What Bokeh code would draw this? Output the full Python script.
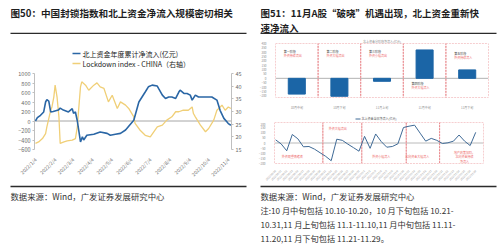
from math import pi
from bokeh.plotting import figure
from bokeh.layouts import row, column
from bokeh.models import Range1d, LinearAxis, FixedTicker, Span
from bokeh.core.properties import value
from bokeh.embed import file_html
from bokeh.resources import INLINE

FONT = "Noto Sans CJK SC"
BLUE = "#2a66a5"
YELLOW = "#f0cf77"
BAR = "#1b65a6"
PINK = "#e8868a"
LINEBLUE = "#3f6a96"
TINY = "#8c8c8c"
RULE = "#2b2b2b"

# ---------------- texts ----------------
title_left = "图50：中国封锁指数和北上资金净流入规模密切相关"
title_right = ["图51：11月A股“破晓”机遇出现，北上资金重新快", "速净流入"]
source_text = "数据来源：Wind，广发证券发展研究中心"
notes = ["注:10 月中旬包括 10.10-10.20，10 月下旬包括 10.21-",
         "10.31,11 月上旬包括 11.1-11.10,11 月中旬包括 11.11-",
         "11.20,11 月下旬包括 11.21-11.29。"]

# ---------------- left chart data ----------------
left_tick_days = [3, 34, 62, 93, 123, 154, 184, 215, 246, 276, 307]
left_tick_labels = ["2022/1/4", "2022/2/4", "2022/3/4", "2022/4/4", "2022/5/4", "2022/6/4",
                    "2022/7/4", "2022/8/4", "2022/9/4", "2022/10/4", "2022/11/4"]
left_y_ticks = [-600, -400, -200, 0, 200, 400, 600, 800, 1000]
right_y_ticks = [15, 20, 25, 30, 35, 40, 45]
legend_labels = ["北上资金年度累计净流入(亿元)", "Lockdown index - CHINA（右轴）"]

flow_days = [3, 6, 11, 16, 19, 21, 24, 27, 31, 39, 42, 47, 55, 61, 63, 66, 69, 74, 77, 79,
             84, 95, 105, 116, 121, 129, 137, 145, 158, 166, 171, 176, 181, 187, 195, 197,
             203, 208, 213, 218, 224, 229, 231, 237, 242, 247, 250, 255, 260, 271, 281, 289,
             294, 300, 305, 307, 311]
flow_vals = [0, 70, 120, 190, 400, 450, 420, 190, 200, 230, 270, 230, 190, 260, 160, 190, 0,
             -440, -330, -400, -300, -280, -230, -260, -300, -280, -260, -190, 17, 400, 505,
             610, 720, 755, 735, 685, 545, 475, 505, 505, 475, 610, 650, 580, 580, 545, 440,
             545, 505, 505, 505, 440, 225, 55, -20, -55, -90]

lock_days = [3, 8, 14, 19, 21, 24, 27, 29, 32, 34, 37, 40, 41, 42, 48, 53, 61, 66, 69, 71,
             74, 76, 82, 87, 95, 100, 105, 111, 118, 124, 132, 137, 145, 150, 158, 160, 168,
             176, 184, 195, 203, 210, 218, 224, 229, 236, 244, 250, 252, 255, 263, 271, 276,
             284, 289, 292, 297, 302, 307, 311]
lock_vals = [17.4, 18.0, 19.3, 21.3, 23.9, 27.2, 30.5, 31.8, 35.8, 40.4, 35.8, 27.9, 22.6,
             17.4, 18.0, 18.4, 18.7, 19.3, 23.9, 30.5, 39.7, 41.7, 40.4, 38.4, 40.4, 41.3,
             39.7, 39.1, 33.8, 36.4, 31.2, 33.8, 32.5, 31.2, 27.9, 25.3, 22.6, 20.6, 20.0,
             23.9, 24.6, 26.6, 27.9, 29.9, 29.9, 30.5, 30.5, 31.8, 29.2, 27.9, 24.6, 22.0,
             23.3, 26.6, 30.5, 31.2, 32.5, 30.5, 31.8, 31.2]

# ---------------- right top (bars) ----------------
bar_title = "北上资金分阶段净流入(亿元)"
periods = ["10月中旬", "10月下旬", "11月上旬", "11月中旬", "11月下旬"]
period_flow = [-181, -206, -34, 326, 97]
bar_y_ticks = [-200, -150, -100, -50, 0, 50, 100, 150, 200, 250, 300, 350, 400]
stage_names = ["第一阶段", "第二阶段", "第三阶段", "第四阶段", "第五阶段"]
stage_notes = ["外资持续流出", "外资大幅流出", "外资小幅流出", "外资大幅流入", "外资持续流入"]
stage_name_y = [300, 300, 300, -70, 280]
stage_note_y = [255, 255, 255, -115, 235]

# ---------------- right bottom (daily line) ----------------
trade_dates = ["2022/10/10", "2022/10/11", "2022/10/12", "2022/10/13", "2022/10/14",
               "2022/10/17", "2022/10/18", "2022/10/19", "2022/10/20", "2022/10/21",
               "2022/10/24", "2022/10/25", "2022/10/26", "2022/10/27", "2022/10/28",
               "2022/10/31", "2022/11/1", "2022/11/2", "2022/11/3", "2022/11/4",
               "2022/11/7", "2022/11/8", "2022/11/9", "2022/11/10", "2022/11/11",
               "2022/11/14", "2022/11/15", "2022/11/16", "2022/11/17", "2022/11/18",
               "2022/11/21", "2022/11/22", "2022/11/23", "2022/11/24", "2022/11/25",
               "2022/11/28", "2022/11/29"]
daily_flow = [31, -9, -76, 83, 41, -37, -34, -60, -95, -130, -173, 37, 26, -11, -45, -80,
              65, -52, 88, 14, -41, -34, -8, 151, 164, 174, 96, 18, 45, 26, -5, 2, 18, 78,
              18, -25, 104]
line_y_ticks = [-200, -150, -100, -50, 0, 50, 100, 150, 200]
period_starts = [0, 9, 16, 24, 30]
line_legend = "北上资金当日净流入(亿元)"
line_notes = ["外资观望情绪浓", "外资大幅流出", "外资小幅流入", "北向资金大幅流入",
              "地产政策加码，\n北向资金持续\n净流入"]
line_note_x = [3, 11.2, 19, 25.5, 34]
line_note_y = [-139, 141, -139, -139, -139]


def no_align(p):
    if "frame_align" in p.properties():
        p.frame_align = False
    return p


def canvas(w, h):
    p = figure(width=w, height=h, x_range=Range1d(0, w), y_range=Range1d(h, 0),
               x_axis_type=None, y_axis_type=None, title=None,
               output_backend="svg", toolbar_location=None, min_border=0)
    p.outline_line_color = None
    return no_align(p)


def ruled_canvas(h, where):
    # text panel whose (tick-less) x axis line is the report's dark separator rule
    fh = h - 1
    p = figure(width=250, height=h, x_range=Range1d(10, 246), y_range=Range1d(fh, 0),
               x_axis_location=where, y_axis_type=None, title=None,
               output_backend="svg", toolbar_location=None,
               min_border_left=10, min_border_right=4,
               min_border_top=1 if where == "above" else 0,
               min_border_bottom=1 if where == "below" else 0)
    p.outline_line_color = None
    p.grid.visible = False
    ax = p.xaxis[0]
    ax.ticker = FixedTicker(ticks=[])
    ax.axis_line_color = RULE
    ax.axis_line_width = 1.6
    ax.major_tick_line_color = None
    ax.minor_tick_line_color = None
    ax.major_tick_out = 0
    ax.major_tick_in = 0
    ax.major_label_standoff = 0
    ax.major_label_text_font_size = "1px"
    return no_align(p)


def txt(p, x, y, s, size, color="#333333", bold=False, align="left"):
    p.text(x=[x], y=[y], text=[s], text_font=value(FONT), text_font_size=size,
           text_font_style="bold" if bold else "normal", text_color=color,
           text_align=align, text_baseline="middle")


def style_axis(ax, size, color="#595959"):
    ax.major_label_text_font = FONT
    ax.major_label_text_font_size = size
    ax.major_label_text_color = color
    ax.minor_tick_line_color = None


# ---------------- left column ----------------
lt = ruled_canvas(34, "below")
txt(lt, 10, 12.5, title_left, "9.6px", "#1e1e1e", bold=True)

lg = canvas(250, 36)
lg.segment(x0=[72], y0=[19], x1=[80], y1=[19], line_color=BLUE, line_width=1.6)
lg.segment(x0=[72], y0=[29], x1=[80], y1=[29], line_color=YELLOW, line_width=1.6)
txt(lg, 82, 19, legend_labels[0], "7px", "#222222")
txt(lg, 82, 29, legend_labels[1], "7px", "#222222")

pl = figure(width=250, height=115, x_range=Range1d(1.5, 312), y_range=Range1d(-600, 1000),
            output_backend="svg", toolbar_location=None, title=None,
            min_border_left=34, min_border_right=19, min_border_top=3, min_border_bottom=36)
no_align(pl)
pl.extra_y_ranges = {"right": Range1d(15, 45)}
pl.outline_line_color = None
pl.grid.visible = False
pl.add_layout(Span(location=0, dimension="width", line_color="#a6a6a6", line_width=1,
                   level="underlay"))
pl.line(lock_days, lock_vals, line_color=YELLOW, line_width=1.3, y_range_name="right")
pl.line(flow_days, flow_vals, line_color=BLUE, line_width=1.6)

xa = pl.xaxis[0]
xa.ticker = FixedTicker(ticks=left_tick_days)
xa.major_label_overrides = {d: s for d, s in zip(left_tick_days, left_tick_labels)}
xa.major_label_orientation = pi / 4
xa.axis_line_color = None
xa.major_tick_line_color = None
xa.major_label_standoff = 3
style_axis(xa, "5px", "#6b6b6b")

ya = pl.yaxis[0]
ya.ticker = FixedTicker(ticks=left_y_ticks)
ya.axis_line_color = "#bfbfbf"
ya.major_tick_line_color = "#bfbfbf"
ya.major_tick_out = 2
ya.major_tick_in = 0
ya.major_label_standoff = 2
style_axis(ya, "5.5px", "#6b6b6b")

ra = LinearAxis(y_range_name="right", ticker=FixedTicker(ticks=right_y_ticks))
ra.axis_line_color = "#bfbfbf"
ra.major_tick_line_color = "#bfbfbf"
ra.major_tick_out = 2
ra.major_tick_in = 0
ra.major_label_standoff = 2
style_axis(ra, "5.5px", "#6b6b6b")
pl.add_layout(ra, "right")

lf = ruled_canvas(65, "above")
txt(lf, 10, 9, source_text, "8.4px", "#333333")

# ---------------- right column ----------------
rt = ruled_canvas(34, "below")
txt(rt, 10, 12.7, title_right[0], "9.5px", "#1e1e1e", bold=True)
txt(rt, 10, 27.0, title_right[1], "9.5px", "#1e1e1e", bold=True)

pb = figure(width=250, height=78, x_range=periods, y_range=Range1d(-220, 400),
            output_backend="svg", toolbar_location=None, title=bar_title,
            min_border_left=25, min_border_right=12, min_border_top=9, min_border_bottom=9)
no_align(pb)
pb.title.text_font = FONT
pb.title.text_font_size = "3px"
pb.title.text_font_style = "normal"
pb.title.text_color = TINY
pb.title.align = "center"
pb.title.standoff = 0
pb.outline_line_color = None
pb.grid.visible = False
pb.add_layout(Span(location=0, dimension="width", line_color="#9e9e9e", line_width=0.8,
                   level="underlay"))
yr = pb.y_range
pb.rect(x=periods, y=[(yr.start + yr.end) / 2] * len(periods), width=1,
        height=yr.end - yr.start, fill_alpha=0, line_color=PINK, line_dash="2 1",
        line_width=0.8)
pb.vbar(x=periods, top=period_flow, width=0.4, color=BAR)
pb.text(x=periods, y=stage_name_y, text=stage_names, text_font=value(FONT),
        text_font_size="3px", text_color="#444444", text_align="left",
        text_baseline="middle", x_offset=-13)
pb.text(x=periods, y=stage_note_y, text=stage_notes, text_font=value(FONT),
        text_font_size="3px", text_color="#ee6b6b", text_align="left",
        text_baseline="middle", x_offset=-13)
bx = pb.xaxis[0]
bx.axis_line_color = None
bx.major_tick_line_color = None
bx.major_label_standoff = 2
style_axis(bx, "3px", TINY)
by = pb.yaxis[0]
by.ticker = FixedTicker(ticks=bar_y_ticks)
by.axis_line_color = None
by.major_tick_line_color = None
by.major_label_standoff = 3
style_axis(by, "3px", TINY)

rl = canvas(250, 10)
rl.segment(x0=[105], y0=[4.5], x1=[110], y1=[4.5], line_color=LINEBLUE, line_width=1)
txt(rl, 111, 4.5, line_legend, "3px", "#555555")

x_idx = list(range(len(trade_dates)))
pn = figure(width=250, height=63, x_range=Range1d(-0.2, 37.4), y_range=Range1d(-200, 200),
            output_backend="svg", toolbar_location=None, title=None,
            min_border_left=24, min_border_right=17, min_border_top=0, min_border_bottom=12)
no_align(pn)
pn.outline_line_color = None
pn.grid.visible = False
pn.add_layout(Span(location=0, dimension="width", line_color="#a8a8a8", line_width=0.8,
                   level="underlay"))
xr = pn.x_range
lefts = [xr.start] + [s - 0.5 for s in period_starts[1:]]
rights = [s - 0.5 for s in period_starts[1:]] + [xr.end]
pn.quad(left=lefts, right=rights, top=pn.y_range.end, bottom=pn.y_range.start,
        fill_alpha=0, line_color=PINK, line_dash="2 1", line_width=0.8)
pn.line(x_idx, daily_flow, line_color=LINEBLUE, line_width=1)
pn.text(x=line_note_x, y=line_note_y, text=line_notes, text_font=value(FONT),
        text_font_size="3px", text_color="#ee6b6b", text_align="center",
        text_baseline="middle", text_line_height=1.1)
nx = pn.xaxis[0]
nx.ticker = FixedTicker(ticks=x_idx)
nx.major_label_overrides = {i: s for i, s in zip(x_idx, trade_dates)}
nx.major_label_orientation = pi / 4
nx.axis_line_color = None
nx.major_tick_line_color = None
nx.major_label_standoff = 1
style_axis(nx, "2.6px", TINY)
ny = pn.yaxis[0]
ny.ticker = FixedTicker(ticks=line_y_ticks)
ny.axis_line_color = None
ny.major_tick_line_color = None
ny.major_label_standoff = 3
style_axis(ny, "3px", TINY)

rf = ruled_canvas(65, "above")
txt(rf, 10, 9.5, source_text, "8.4px", "#333333")
for i, line in enumerate(notes):
    txt(rf, 10, 23.5 + 14.1 * i, line, "8.2px", "#333333")

left_col = no_align(column(lt, lg, pl, lf))
right_col = no_align(column(rt, pb, rl, pn, rf))
layout = row(left_col, right_col)
open("out.html", "w").write(file_html(layout, INLINE))
